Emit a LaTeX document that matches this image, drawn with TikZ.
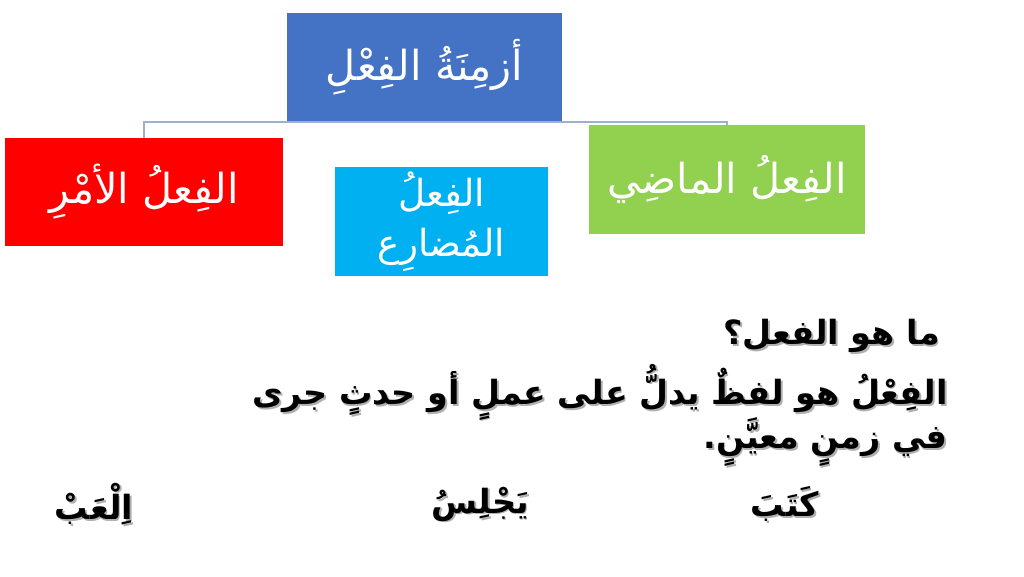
\documentclass[tikz,border=0pt]{standalone}
\usepackage{fontspec}
\TeXXeTstate=1
\newfontfamily\arabicfont[Script=Arabic]{DejaVu Sans}
\newfontfamily\arabicbold[Script=Arabic]{DejaVu Sans Bold}
\definecolor{topblue}{HTML}{4472C4}
\definecolor{redbox}{HTML}{FF0000}
\definecolor{cyanbox}{HTML}{00B0F0}
\definecolor{greenbox}{HTML}{92D050}
\definecolor{connc}{HTML}{9DB0D0}
\definecolor{shadowc}{HTML}{B0B0B0}
\newcommand\rtl[1]{\beginR #1\endR}
\newcommand\shtext[1]{\rlap{\kern1.3pt\raisebox{-1.3pt}{\textcolor{shadowc}{\beginR #1\endR}}}\beginR #1\endR}
\tikzset{
  box/.style={rectangle, inner sep=0pt, text=white, align=center, font=\arabicfont\fontsize{31}{41}\selectfont},
  conn/.style={draw=connc, line width=1.3pt},
  bodytext/.style={inner sep=0pt, font=\arabicbold\fontsize{25}{30}\selectfont, text=black},
}
\begin{document}
\begin{tikzpicture}[x=0.75pt,y=-0.75pt]
\useasboundingbox[fill=white] (0,0) rectangle (1024,576);
% child boxes
\node[box, fill=redbox, minimum width=208.5pt, minimum height=81pt] (red) at (144,192) {\rtl{الفِعلُ الأمْرِ}};
\node[box, fill=greenbox, minimum width=207pt, minimum height=81.75pt] (green) at (727,179.5) {\rtl{الفِعلُ الماضِي}};
\node[box, fill=cyanbox, minimum width=159.75pt, minimum height=81.75pt, font=\arabicfont\fontsize{28}{38}\selectfont] (cyan) at (441.5,221.5) {\rtl{الفِعلُ}\\\rtl{المُضارِع}};
% top box
\node[box, fill=topblue, minimum width=206.25pt, minimum height=81.75pt] (top) at (424.5,67.5) {\rtl{أزمِنَةُ الفِعْلِ}};
% connectors
\draw[conn] (top.south) -| (red.north);
\draw[conn] (top.south) -| (green.north);
% body text
\node[bodytext, anchor=east] (l1) at (940,337) {\shtext{ما هو الفعل؟}};
\node[bodytext, anchor=east] (l2) at (948,393) {\shtext{الفِعْلُ هو لفظٌ يدلُّ على عملٍ أو حدثٍ جرى}};
\node[bodytext, anchor=east] (l3) at (948,443) {\shtext{في زمنٍ معيَّنٍ.}};
\node[bodytext] (w1) at (785,505) {\shtext{كَتَبَ}};
\node[bodytext] (w2) at (480,505) {\shtext{يَجْلِسُ}};
\node[bodytext] (w3) at (94,505) {\shtext{اِلْعَبْ}};
\end{tikzpicture}
\end{document}
